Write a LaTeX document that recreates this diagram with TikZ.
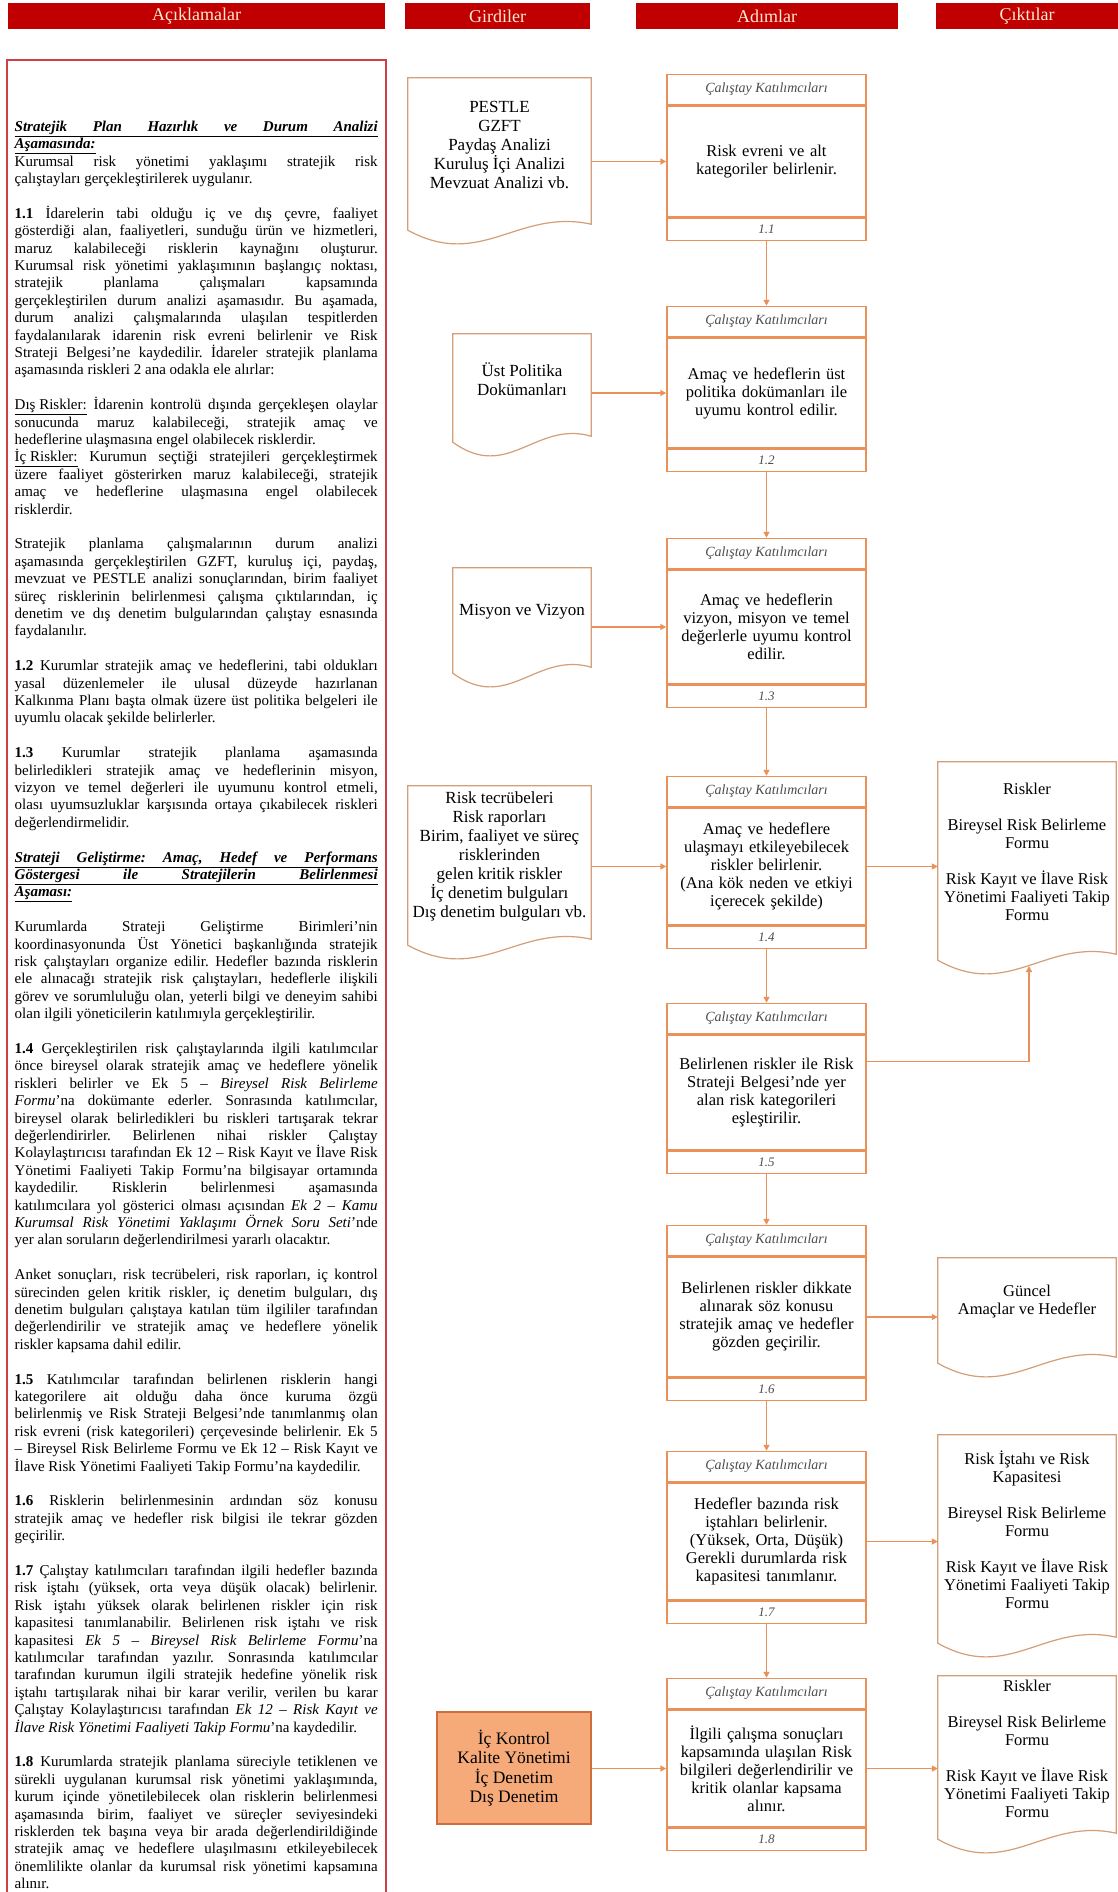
\documentclass[tikz,border=0pt]{standalone}
\usepackage{fontspec}
\setmainfont{Liberation Serif}
\usetikzlibrary{arrows.meta,positioning,calc}
\definecolor{hdrred}{RGB}{192,0,0}
\definecolor{hdrtext}{RGB}{255,232,210}
\definecolor{leftred}{RGB}{205,65,70}
\definecolor{flowor}{RGB}{234,145,90}
\definecolor{docline}{RGB}{212,158,118}
\definecolor{orfill}{RGB}{246,170,122}
\definecolor{ordraw}{RGB}{205,110,60}
\newcommand\pgap{\par\vspace{17.4pt}}
\newcommand\docoutline[2]{%
  \draw[docedge] ($(#1.south west)+(0,18)$) -- (#1.north west) -- (#1.north east)
    -- ($(#1.south east)+(0,12)$)
    .. controls ($(#1.south west)+(0.6*#2,-4)$) and ($(#1.south west)+(0.4*#2,58)$)
    .. ($(#1.south west)+(0,18)$) -- cycle;}
\tikzset{
  hdr/.style={fill=hdrred, text=hdrtext, minimum height=26pt, inner sep=0pt, font=\fontsize{18}{20}\selectfont},
  stepmid/.style={draw=flowor, line width=1.5pt, minimum width=199pt, text width=196pt, align=center, inner sep=0pt, font=\fontsize{16.5}{18}\selectfont},
  stephead/.style={draw=flowor, line width=1.5pt, minimum width=199pt, minimum height=30pt, inner sep=0pt, text=black!70, font=\fontsize{14}{15}\selectfont\itshape},
  stepfoot/.style={draw=flowor, line width=1.5pt, minimum width=199pt, minimum height=22pt, inner sep=0pt, text=black!70, font=\fontsize{13}{14}\selectfont\itshape},
  docnode/.style={minimum width=#1, inner sep=0pt, align=center, font=\fontsize{17}{19}\selectfont},
  outnode/.style={minimum width=#1, inner sep=0pt, align=center, font=\fontsize{16.5}{18}\selectfont},
  docedge/.style={draw=docline, line width=1.2pt},
  orbox/.style={fill=orfill, draw=ordraw, line width=1.2pt, inner sep=0pt, align=center, font=\fontsize{17.5}{19.5}\selectfont},
  arr/.style={draw=flowor, line width=1.6pt, -{Triangle[length=6pt,width=6pt]}},
  lefttext/.style={anchor=north west, inner sep=0pt, text width=363pt, align=justify, font=\fontsize{15}{17.4}\selectfont},
  leftframe/.style={draw=leftred, line width=2pt},
}
\begin{document}
\begin{tikzpicture}[x=1pt,y=-1pt]
\fill[white] (0,0) rectangle (1118,1892);
\useasboundingbox (0,0) rectangle (1118,1892);

% header bars
\node[hdr, minimum width=377pt] (hA) at (196.5,16) {Açıklamalar};
\node[hdr, minimum width=185pt] (hG) at (497.5,16) {Girdiler};
\node[hdr, minimum width=262pt] (hS) at (767,16) {Adımlar};
\node[hdr, minimum width=182pt] (hC) at (1027,16) {Çıktılar};

% left frame
\draw[leftframe] (7,1892) -- (7,60) -- (386,60) -- (386,1892);

% left text
\node[lefttext] (ltext) at (14.5,119) {\parindent=0pt\parskip=0pt\lineskiplimit=-20pt\frenchspacing%
\strut\underline{\makebox[363pt][s]{\textbf{\textit{Stratejik Plan Hazırlık ve Durum Analizi}}}}\\
\underline{\textbf{\textit{Aşamasında:}}}\par
Kurumsal risk yönetimi yaklaşımı stratejik risk\linebreak
çalıştayları gerçekleştirilerek uygulanır.\pgap
\textbf{1.1} İdarelerin tabi olduğu iç ve dış çevre, faaliyet\linebreak
gösterdiği alan, faaliyetleri, sunduğu ürün ve hizmetleri,\linebreak
maruz kalabileceği risklerin kaynağını oluşturur.\linebreak
Kurumsal risk yönetimi yaklaşımının başlangıç noktası,\linebreak
stratejik planlama çalışmaları kapsamında\linebreak
gerçekleştirilen durum analizi aşamasıdır. Bu aşamada,\linebreak
durum analizi çalışmalarında ulaşılan tespitlerden\linebreak
faydalanılarak idarenin risk evreni belirlenir ve Risk\linebreak
Strateji Belgesi'ne kaydedilir. İdareler stratejik planlama\linebreak
aşamasında riskleri 2 ana odakla ele alırlar:\pgap
\underline{Dış Riskler:} İdarenin kontrolü dışında gerçekleşen olaylar\linebreak
sonucunda maruz kalabileceği, stratejik amaç ve\linebreak
hedeflerine ulaşmasına engel olabilecek risklerdir.\\
\underline{İç Riskler:} Kurumun seçtiği stratejileri gerçekleştirmek\linebreak
üzere faaliyet gösterirken maruz kalabileceği, stratejik\linebreak
amaç ve hedeflerine ulaşmasına engel olabilecek\linebreak
risklerdir.\pgap
Stratejik planlama çalışmalarının durum analizi\linebreak
aşamasında gerçekleştirilen GZFT, kuruluş içi, paydaş,\linebreak
mevzuat ve PESTLE analizi sonuçlarından, birim faaliyet\linebreak
süreç risklerinin belirlenmesi çalışma çıktılarından, iç\linebreak
denetim ve dış denetim bulgularından çalıştay esnasında\linebreak
faydalanılır.\pgap
\textbf{1.2} Kurumlar stratejik amaç ve hedeflerini, tabi oldukları\linebreak
yasal düzenlemeler ile ulusal düzeyde hazırlanan\linebreak
Kalkınma Planı başta olmak üzere üst politika belgeleri ile\linebreak
uyumlu olacak şekilde belirlerler.\pgap
\textbf{1.3} Kurumlar stratejik planlama aşamasında\linebreak
belirledikleri stratejik amaç ve hedeflerinin misyon,\linebreak
vizyon ve temel değerleri ile uyumunu kontrol etmeli,\linebreak
olası uyumsuzluklar karşısında ortaya çıkabilecek riskleri\linebreak
değerlendirmelidir.\pgap
\underline{\makebox[363pt][s]{\textbf{\textit{Strateji Geliştirme: Amaç, Hedef ve Performans}}}}\\
\underline{\makebox[363pt][s]{\textbf{\textit{Göstergesi ile Stratejilerin Belirlenmesi}}}}\\
\underline{\textbf{\textit{Aşaması:}}}\pgap
Kurumlarda Strateji Geliştirme Birimleri'nin\linebreak
koordinasyonunda Üst Yönetici başkanlığında stratejik\linebreak
risk çalıştayları organize edilir. Hedefler bazında risklerin\linebreak
ele alınacağı stratejik risk çalıştayları, hedeflerle ilişkili\linebreak
görev ve sorumluluğu olan, yeterli bilgi ve deneyim sahibi\linebreak
olan ilgili yöneticilerin katılımıyla gerçekleştirilir.\pgap
\textbf{1.4} Gerçekleştirilen risk çalıştaylarında ilgili katılımcılar\linebreak
önce bireysel olarak stratejik amaç ve hedeflere yönelik\linebreak
riskleri belirler ve Ek 5 – \textit{Bireysel Risk Belirleme\linebreak
Formu}'na dokümante ederler. Sonrasında katılımcılar,\linebreak
bireysel olarak belirledikleri bu riskleri tartışarak tekrar\linebreak
değerlendirirler. Belirlenen nihai riskler Çalıştay\linebreak
Kolaylaştırıcısı tarafından Ek 12 – Risk Kayıt ve İlave Risk\linebreak
Yönetimi Faaliyeti Takip Formu'na bilgisayar ortamında\linebreak
kaydedilir. Risklerin belirlenmesi aşamasında\linebreak
katılımcılara yol gösterici olması açısından \textit{Ek 2 – Kamu\linebreak
Kurumsal Risk Yönetimi Yaklaşımı Örnek Soru Seti}'nde\linebreak
yer alan soruların değerlendirilmesi yararlı olacaktır.\pgap
Anket sonuçları, risk tecrübeleri, risk raporları, iç kontrol\linebreak
sürecinden gelen kritik riskler, iç denetim bulguları, dış\linebreak
denetim bulguları çalıştaya katılan tüm ilgililer tarafından\linebreak
değerlendirilir ve stratejik amaç ve hedeflere yönelik\linebreak
riskler kapsama dahil edilir.\pgap
\textbf{1.5} Katılımcılar tarafından belirlenen risklerin hangi\linebreak
kategorilere ait olduğu daha önce kuruma özgü\linebreak
belirlenmiş ve Risk Strateji Belgesi'nde tanımlanmış olan\linebreak
risk evreni (risk kategorileri) çerçevesinde belirlenir. Ek 5\linebreak
– Bireysel Risk Belirleme Formu ve Ek 12 – Risk Kayıt ve\linebreak
İlave Risk Yönetimi Faaliyeti Takip Formu'na kaydedilir.\pgap
\textbf{1.6} Risklerin belirlenmesinin ardından söz konusu\linebreak
stratejik amaç ve hedefler risk bilgisi ile tekrar gözden\linebreak
geçirilir.\pgap
\textbf{1.7} Çalıştay katılımcıları tarafından ilgili hedefler bazında\linebreak
risk iştahı (yüksek, orta veya düşük olacak) belirlenir.\linebreak
Risk iştahı yüksek olarak belirlenen riskler için risk\linebreak
kapasitesi tanımlanabilir. Belirlenen risk iştahı ve risk\linebreak
kapasitesi \textit{Ek 5 – Bireysel Risk Belirleme Formu}'na\linebreak
katılımcılar tarafından yazılır. Sonrasında katılımcılar\linebreak
tarafından kurumun ilgili stratejik hedefine yönelik risk\linebreak
iştahı tartışılarak nihai bir karar verilir, verilen bu karar\linebreak
Çalıştay Kolaylaştırıcısı tarafından \textit{Ek 12 – Risk Kayıt ve\linebreak
İlave Risk Yönetimi Faaliyeti Takip Formu}'na kaydedilir.\pgap
\textbf{1.8} Kurumlarda stratejik planlama süreciyle tetiklenen ve\linebreak
sürekli uygulanan kurumsal risk yönetimi yaklaşımında,\linebreak
kurum içinde yönetilebilecek olan risklerin belirlenmesi\linebreak
aşamasında birim, faaliyet ve süreçler seviyesindeki\linebreak
risklerden tek başına veya bir arada değerlendirildiğinde\linebreak
stratejik amaç ve hedeflere ulaşılmasını etkileyebilecek\linebreak
önemlilikte olanlar da kurumsal risk yönetimi kapsamına\linebreak
alınır.\par};

% steps
\node[stepmid, minimum height=111pt] (s11) at (766.5,161.5) {Risk evreni ve alt\\kategoriler belirlenir.};
\node[stepmid, minimum height=110pt] (s12) at (766.5,393) {Amaç ve hedeflerin üst\\politika dokümanları ile\\uyumu kontrol edilir.};
\node[stepmid, minimum height=114pt] (s13) at (766.5,627) {Amaç ve hedeflerin\\vizyon, misyon ve temel\\değerlerle uyumu kontrol\\edilir.};
\node[stepmid, minimum height=117pt] (s14) at (766.5,866.5) {Amaç ve hedeflere\\ulaşmayı etkileyebilecek\\riskler belirlenir.\\(Ana kök neden ve etkiyi\\içerecek şekilde)};
\node[stepmid, minimum height=115pt] (s15) at (766.5,1092.5) {Belirlenen riskler ile Risk\\Strateji Belgesi'nde yer\\alan risk kategorileri\\eşleştirilir.};
\node[stepmid, minimum height=120pt] (s16) at (766.5,1317) {Belirlenen riskler dikkate\\alınarak söz konusu\\stratejik amaç ve hedefler\\gözden geçirilir.};
\node[stepmid, minimum height=117pt] (s17) at (766.5,1541.5) {Hedefler bazında risk\\iştahları belirlenir.\\(Yüksek, Orta, Düşük)\\Gerekli durumlarda risk\\kapasitesi tanımlanır.};
\node[stepmid, minimum height=117pt] (s18) at (766.5,1768.5) {İlgili çalışma sonuçları\\kapsamında ulaşılan Risk\\bilgileri değerlendirilir ve\\kritik olanlar kapsama\\alınır.};
\foreach \s/\n in {s11/1.1,s12/1.2,s13/1.3,s14/1.4,s15/1.5,s16/1.6,s17/1.7,s18/1.8}{
  \node[stephead, above=0pt of \s] (\s h) {Çalıştay Katılımcıları};
  \node[stepfoot, below=0pt of \s] (\s f) {\n};
}

% inputs
\node[docnode=183pt, minimum height=134pt] (pestle) at (499.5,145) {PESTLE\\GZFT\\Paydaş Analizi\\Kuruluş İçi Analizi\\Mevzuat Analizi vb.};
\docoutline{pestle}{183}
\node[docnode=138pt, minimum height=90pt] (ust) at (522,379) {Üst Politika\\Dokümanları};
\docoutline{ust}{138}
\node[docnode=138pt, minimum height=87pt] (misyon) at (522,611.5) {Misyon ve Vizyon};
\docoutline{misyon}{138}
\node[docnode=183pt, minimum height=141pt] (risk) at (499.5,856.5) {Risk tecrübeleri\\Risk raporları\\Birim, faaliyet ve süreç\\risklerinden\\gelen kritik riskler\\İç denetim bulguları\\Dış denetim bulguları vb.};
\docoutline{risk}{183}
\node[orbox, minimum width=154pt, minimum height=112pt] (ork) at (514,1768) {İç Kontrol\\Kalite Yönetimi\\İç Denetim\\Dış Denetim};

% outputs
\node[outnode=178pt, minimum height=180pt] (out1) at (1027,852) {Riskler\\[18pt]Bireysel Risk Belirleme\\Formu\\[18pt]Risk Kayıt ve İlave Risk\\Yönetimi Faaliyeti Takip\\Formu};
\docoutline{out1}{178}
\node[outnode=178pt, minimum height=87pt] (out2) at (1027,1301.5) {Güncel\\Amaçlar ve Hedefler};
\docoutline{out2}{178}
\node[outnode=178pt, minimum height=190pt] (out3) at (1027,1530) {Risk İştahı ve Risk\\Kapasitesi\\[18pt]Bireysel Risk Belirleme\\Formu\\[18pt]Risk Kayıt ve İlave Risk\\Yönetimi Faaliyeti Takip\\Formu};
\docoutline{out3}{178}
\node[outnode=178pt, minimum height=145pt] (out4) at (1027,1748.5) {Riskler\\[18pt]Bireysel Risk Belirleme\\Formu\\[18pt]Risk Kayıt ve İlave Risk\\Yönetimi Faaliyeti Takip\\Formu};
\docoutline{out4}{178}

% connectors
\draw[arr] (pestle.east |- s11.west) -- (s11.west);
\draw[arr] (ust.east |- s12.west) -- (s12.west);
\draw[arr] (misyon.east |- s13.west) -- (s13.west);
\draw[arr] (risk.east |- s14.west) -- (s14.west);
\draw[arr] (ork.east |- s18.west) -- (s18.west);
\draw[arr] (s11f.south) -- (s12h.north);
\draw[arr] (s12f.south) -- (s13h.north);
\draw[arr] (s13f.south) -- (s14h.north);
\draw[arr] (s14f.south) -- (s15h.north);
\draw[arr] (s15f.south) -- (s16h.north);
\draw[arr] (s16f.south) -- (s17h.north);
\draw[arr] (s17f.south) -- (s18h.north);
\draw[arr] (s14.east) -- (s14.east -| out1.west);
\coordinate (o1in) at (1029,966);
\draw[arr] ($(s15.east)+(0,-31)$) -| (o1in);
\draw[arr] (s16.east) -- (s16.east -| out2.west);
\draw[arr] (s17.east) -- (s17.east -| out3.west);
\draw[arr] (s18.east) -- (s18.east -| out4.west);
\end{tikzpicture}
\end{document}
